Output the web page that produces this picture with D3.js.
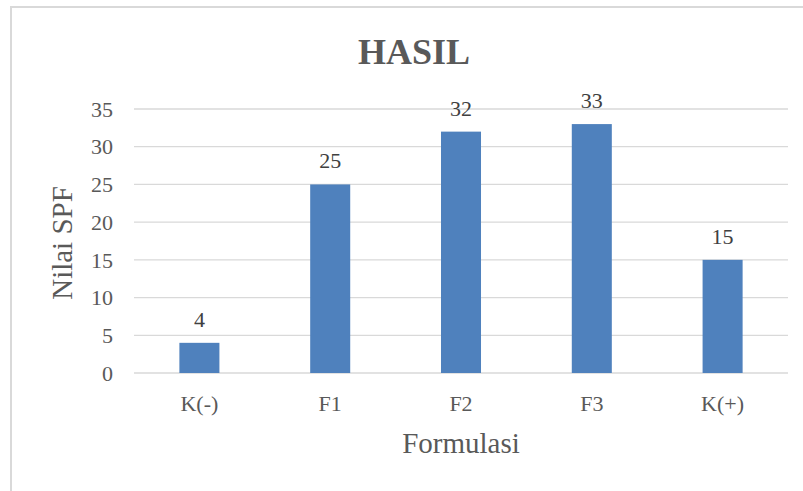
<!DOCTYPE html>
<html>
<head>
<meta charset="utf-8">
<script src="https://cdn.jsdelivr.net/npm/d3@7"></script>
<style>
  body { margin: 0; background: #fff; }
  svg { display: block; }
  svg text { font-family: "Liberation Serif", "Times New Roman", serif; }
</style>
</head>
<body>
<script>
const categories = ["K(-)", "F1", "F2", "F3", "K(+)"];
const values = [4, 25, 32, 33, 15];
const yTicks = [0, 5, 10, 15, 20, 25, 30, 35];

const width = 803;
const height = 491;

const svg = d3.select("body")
    .append("svg")
    .attr("width", width)
    .attr("height", height);

// chart frame (right and bottom edges run off the page)
svg.append("rect")
    .attr("x", 11)
    .attr("y", 7)
    .attr("width", 820)
    .attr("height", 520)
    .attr("fill", "#fff")
    .attr("stroke", "#d9d9d9")
    .attr("stroke-width", 2);

const x = d3.scaleBand()
    .domain(categories)
    .range([134, 788])
    .paddingInner(0.694)
    .paddingOuter(0.347);

const y = d3.scaleLinear()
    .domain([0, 35])
    .range([373, 109]);

// gridlines
svg.append("g")
    .selectAll("line")
    .data(yTicks)
    .enter()
    .append("line")
    .attr("x1", 134)
    .attr("x2", 788)
    .attr("y1", (d) => y(d))
    .attr("y2", (d) => y(d))
    .attr("stroke", "#d9d9d9")
    .attr("stroke-width", 1.3);

// y tick labels
svg.append("g")
    .selectAll("text")
    .data(yTicks)
    .enter()
    .append("text")
    .attr("x", 113)
    .attr("y", (d) => y(d))
    .attr("dy", "0.35em")
    .attr("text-anchor", "end")
    .attr("font-size", 22)
    .attr("fill", "#595959")
    .text((d) => d);

// bars
svg.append("g")
    .selectAll("rect")
    .data(values)
    .enter()
    .append("rect")
    .attr("x", (d, i) => x(categories[i]))
    .attr("y", (d) => y(d))
    .attr("width", x.bandwidth())
    .attr("height", (d) => y(0) - y(d))
    .attr("fill", "#4f81bd");

// data labels
svg.append("g")
    .selectAll("text")
    .data(values)
    .enter()
    .append("text")
    .attr("x", (d, i) => x(categories[i]) + x.bandwidth() / 2)
    .attr("y", (d) => y(d) - 16)
    .attr("text-anchor", "middle")
    .attr("font-size", 22)
    .attr("fill", "#404040")
    .text((d) => d);

// category labels
svg.append("g")
    .selectAll("text")
    .data(categories)
    .enter()
    .append("text")
    .attr("x", (d) => x(d) + x.bandwidth() / 2)
    .attr("y", 411)
    .attr("text-anchor", "middle")
    .attr("font-size", 22)
    .attr("fill", "#595959")
    .text((d) => d);

// title
svg.append("text")
    .attr("x", 414)
    .attr("y", 64)
    .attr("text-anchor", "middle")
    .attr("font-size", 36)
    .attr("font-weight", "bold")
    .attr("fill", "#595959")
    .text("HASIL");

// axis titles
svg.append("text")
    .attr("x", 461)
    .attr("y", 453)
    .attr("text-anchor", "middle")
    .attr("font-size", 29)
    .attr("fill", "#595959")
    .text("Formulasi");

svg.append("text")
    .attr("transform", "translate(72, 243) rotate(-90)")
    .attr("text-anchor", "middle")
    .attr("font-size", 29)
    .attr("fill", "#595959")
    .text("Nilai SPF");
</script>
</body>
</html>
